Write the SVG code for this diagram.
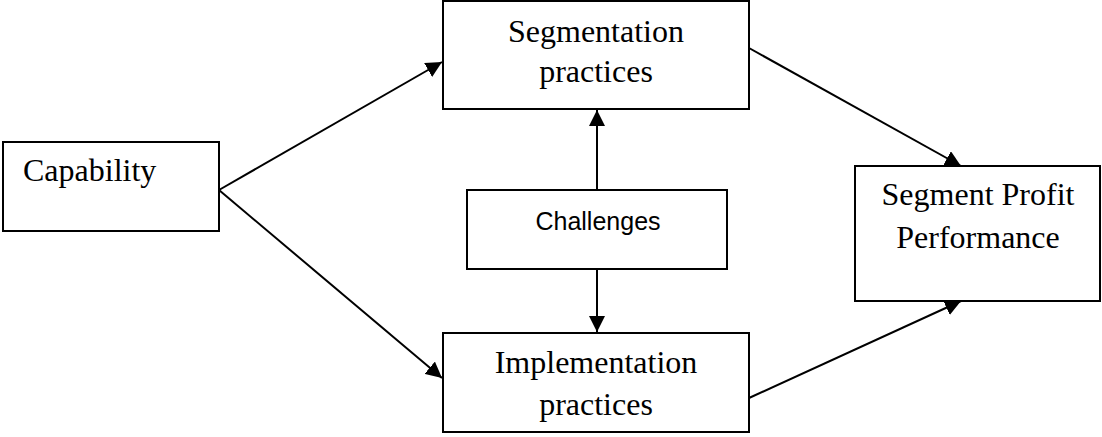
<svg xmlns="http://www.w3.org/2000/svg" width="1102" height="437" viewBox="0 0 1102 437">
<style>
.box{fill:#fff;stroke:#000;stroke-width:2}
.t{font-family:"Liberation Serif","Times New Roman",serif;font-size:32px;fill:#000}
.s{font-family:"Liberation Sans",Arial,sans-serif;font-size:25px;fill:#000}
.c{stroke:#000;stroke-width:2;fill:none}
</style>
<defs>
<marker id="ah" viewBox="0 0 16 16" refX="16" refY="8" markerWidth="16" markerHeight="16" markerUnits="userSpaceOnUse" orient="auto">
<path d="M0,0 L16,8 L0,16 Z" fill="#000"/>
</marker>
</defs>
<rect width="1102" height="437" fill="#fff"/>
<g id="connectors">
<line class="c" x1="219" y1="190" x2="442" y2="62" marker-end="url(#ah)"/>
<line class="c" x1="219" y1="190" x2="442" y2="378" marker-end="url(#ah)"/>
<line class="c" x1="749" y1="48" x2="961" y2="166" marker-end="url(#ah)"/>
<line class="c" x1="749" y1="398" x2="961" y2="301" marker-end="url(#ah)"/>
<line class="c" x1="597" y1="190" x2="597" y2="110" marker-end="url(#ah)"/>
<line class="c" x1="597" y1="269" x2="597" y2="332" marker-end="url(#ah)"/>
</g>
<g id="capability">
<rect class="box" x="3" y="142" width="216" height="89"/>
<text class="t" x="23" y="181">Capability</text>
</g>
<g id="segmentation">
<rect class="box" x="443" y="1" width="306" height="108"/>
<text class="t" x="596" y="42" text-anchor="middle">Segmentation</text>
<text class="t" x="596" y="82" text-anchor="middle">practices</text>
</g>
<g id="challenges">
<rect class="box" x="467" y="190" width="260" height="79"/>
<text class="s" x="598" y="230" text-anchor="middle">Challenges</text>
</g>
<g id="implementation">
<rect class="box" x="443" y="333" width="306" height="99"/>
<text class="t" x="596" y="373" text-anchor="middle">Implementation</text>
<text class="t" x="596" y="415" text-anchor="middle">practices</text>
</g>
<g id="profit">
<rect class="box" x="855" y="166" width="245" height="135"/>
<text class="t" x="978" y="205" text-anchor="middle">Segment Profit</text>
<text class="t" x="978" y="248" text-anchor="middle">Performance</text>
</g>
</svg>
